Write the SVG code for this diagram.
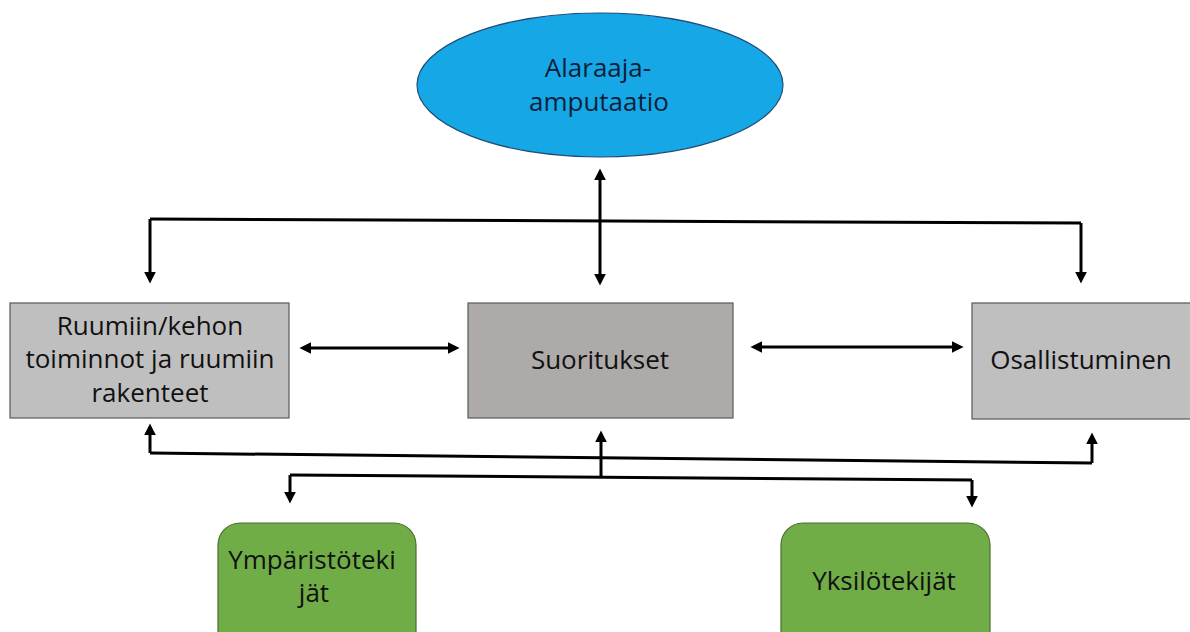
<svg xmlns="http://www.w3.org/2000/svg" width="1190" height="632" viewBox="0 0 1190 632">
<defs>
<style>
.lbl{font-family:"Open Sans","Liberation Sans",sans-serif;font-size:26px;fill:#111;text-anchor:middle}
.grey{fill:#bfbfbf;stroke:#595959;stroke-width:1.2}
.dark{fill:#aeaaaa;stroke:#595959;stroke-width:1.2}
.green{fill:#70ad47;stroke:#4a6e32;stroke-width:1.2}
.con{fill:none;stroke:#000;stroke-width:3}
.arr{marker-end:url(#ah)}
.both{marker-start:url(#ah);marker-end:url(#ah)}
</style>
<marker id="ah" viewBox="0 0 10 10" refX="7" refY="5" markerWidth="12" markerHeight="12" markerUnits="userSpaceOnUse" orient="auto-start-reverse">
<path d="M0,0 L10,5 L0,10 z" fill="#000"/>
</marker>
</defs>
<rect width="1190" height="632" fill="#fff"/>
<g id="amputaatio">
<ellipse cx="600" cy="85" rx="183" ry="72" fill="#16a8e6" stroke="#1f4e79" stroke-width="1.2"/>
<text class="lbl" x="598" y="77" style="fill:#0f1f3a">Alaraaja-</text>
<text class="lbl" x="599" y="111" style="fill:#0f1f3a">amputaatio</text>
</g>
<g id="ruumiin">
<rect class="grey" x="10" y="303" width="279" height="115"/>
<text class="lbl" x="150" y="335">Ruumiin/kehon</text>
<text class="lbl" x="150" y="368">toiminnot ja ruumiin</text>
<text class="lbl" x="150" y="402">rakenteet</text>
</g>
<g id="suoritukset">
<rect class="dark" x="468" y="303" width="265" height="115"/>
<text class="lbl" x="600" y="369">Suoritukset</text>
</g>
<g id="osallistuminen">
<rect class="grey" x="972" y="303" width="230" height="116"/>
<text class="lbl" x="1081" y="369">Osallistuminen</text>
</g>
<g id="ymparisto">
<rect class="green" x="218" y="523" width="198" height="140" rx="22"/>
<text class="lbl" x="312" y="569">Ympäristöteki</text>
<text class="lbl" x="314" y="602">jät</text>
</g>
<g id="yksilo">
<rect class="green" x="781" y="523" width="209" height="140" rx="22"/>
<text class="lbl" x="884" y="590">Yksilötekijät</text>
</g>
<g id="connectors">
<path class="con" d="M150,219 L1081,223"/>
<path class="con arr" d="M150,219 L150,280"/>
<path class="con arr" d="M1081,223 L1081,280"/>
<path class="con both" d="M600,172 L600,282"/>
<path class="con both" d="M303,348 L456,348"/>
<path class="con both" d="M754,347 L960,347"/>
<path class="con" d="M150,453 L1092,463"/>
<path class="con arr" d="M150,453 L150,427"/>
<path class="con arr" d="M1092,463 L1092,436"/>
<path class="con arr" d="M601,477 L601,434"/>
<path class="con" d="M290,475 L972,480"/>
<path class="con arr" d="M290,475 L290,500"/>
<path class="con arr" d="M972,480 L972,504"/>
</g>
</svg>
